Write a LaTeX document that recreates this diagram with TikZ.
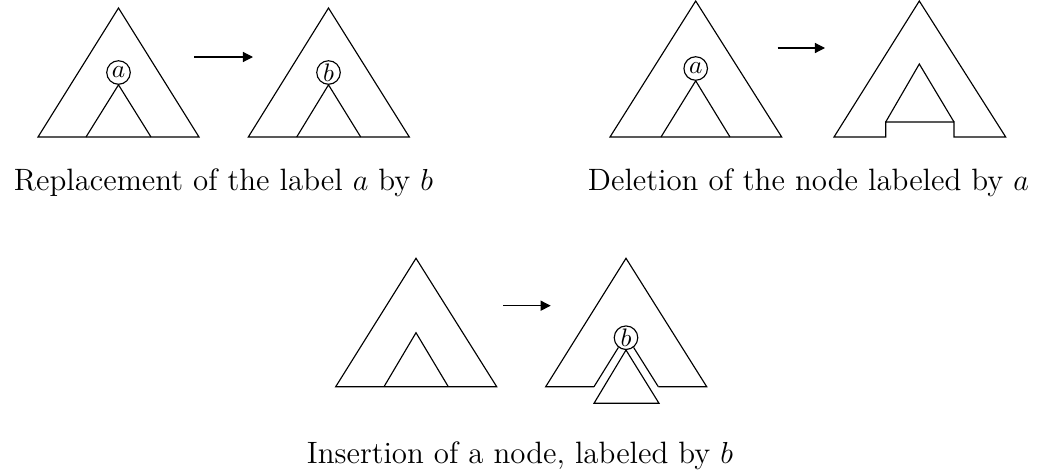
\documentclass[tikz,border=0pt]{standalone}
\usetikzlibrary{arrows.meta}
\begin{document}
\begin{tikzpicture}[x=0.395pt,y=-0.395pt,
  line width=0.45pt, line join=miter,
  labnode/.style={circle,draw,inner sep=0pt,minimum size=9.3pt},
  captxt/.style={anchor=base,inner sep=0pt,font=\fontsize{12.2}{14}\selectfont},
  arr/.style={-{Triangle[length=4pt,width=4pt]}}]
\useasboundingbox (0,0) rectangle (1040,473);
% ---- Replacement ----
\draw (38,137) -- (118.5,8) -- (199,137) -- cycle;
\node[labnode] (a1) at (118.5,72.5) {$a$};
\draw (86,137) -- (a1.south) -- (151,137);
\coordinate (r1s) at (194,57);
\coordinate (r1e) at (253,57);
\draw[arr] (r1s) -- (r1e);
\draw (248.3,137) -- (328.5,8) -- (409.3,137) -- cycle;
\node[labnode] (b1) at (328.5,72.5) {$b$};
\draw (296.7,137) -- (b1.south) -- (360.7,137);
\node[captxt] (c1) at (223.5,190.5) {Replacement of the label $a$ by $b$};
% ---- Deletion ----
\draw (610,137) -- (695.7,1) -- (781.7,137) -- cycle;
\node[labnode] (a2) at (695.7,68.5) {$a$};
\draw (661,137) -- (a2.south) -- (730,137);
\coordinate (r2s) at (777.7,48);
\coordinate (r2e) at (825,48);
\draw[arr] (r2s) -- (r2e);
\draw (885.7,137) -- (834,137) -- (919.3,1) -- (1005.7,137) -- (954,137)
      -- (954,122) -- (885.7,122) -- cycle;
\draw (885.7,122) -- (919.3,64) -- (954,122);
\node[captxt] (c2) at (808.5,190.5) {Deletion of the node labeled by $a$};
% ---- Insertion ----
\draw (335.7,386.7) -- (416,258.3) -- (496.7,386.7) -- cycle;
\draw (384,386.7) -- (416,332.7) -- (448.3,386.7);
\coordinate (r3s) at (503.3,305.7);
\coordinate (r3e) at (550.7,305.7);
\draw[arr] (r3s) -- (r3e);
\node[labnode] (b2) at (626,337.7) {$b$};
\coordinate (pl) at (594,386.7);
\coordinate (pr) at (658.3,386.7);
\draw (pl) -- (545.7,386.7) -- (626,258.3) -- (706.7,386.7) -- (pr);
\draw (b2.232) -- (pl);
\draw (b2.308) -- (pr);
\draw (b2.south) -- (659,403.3) -- (594,403.3) -- cycle;
\node[captxt] (c3) at (520,463) {Insertion of a node, labeled by $b$};
\end{tikzpicture}
\end{document}
